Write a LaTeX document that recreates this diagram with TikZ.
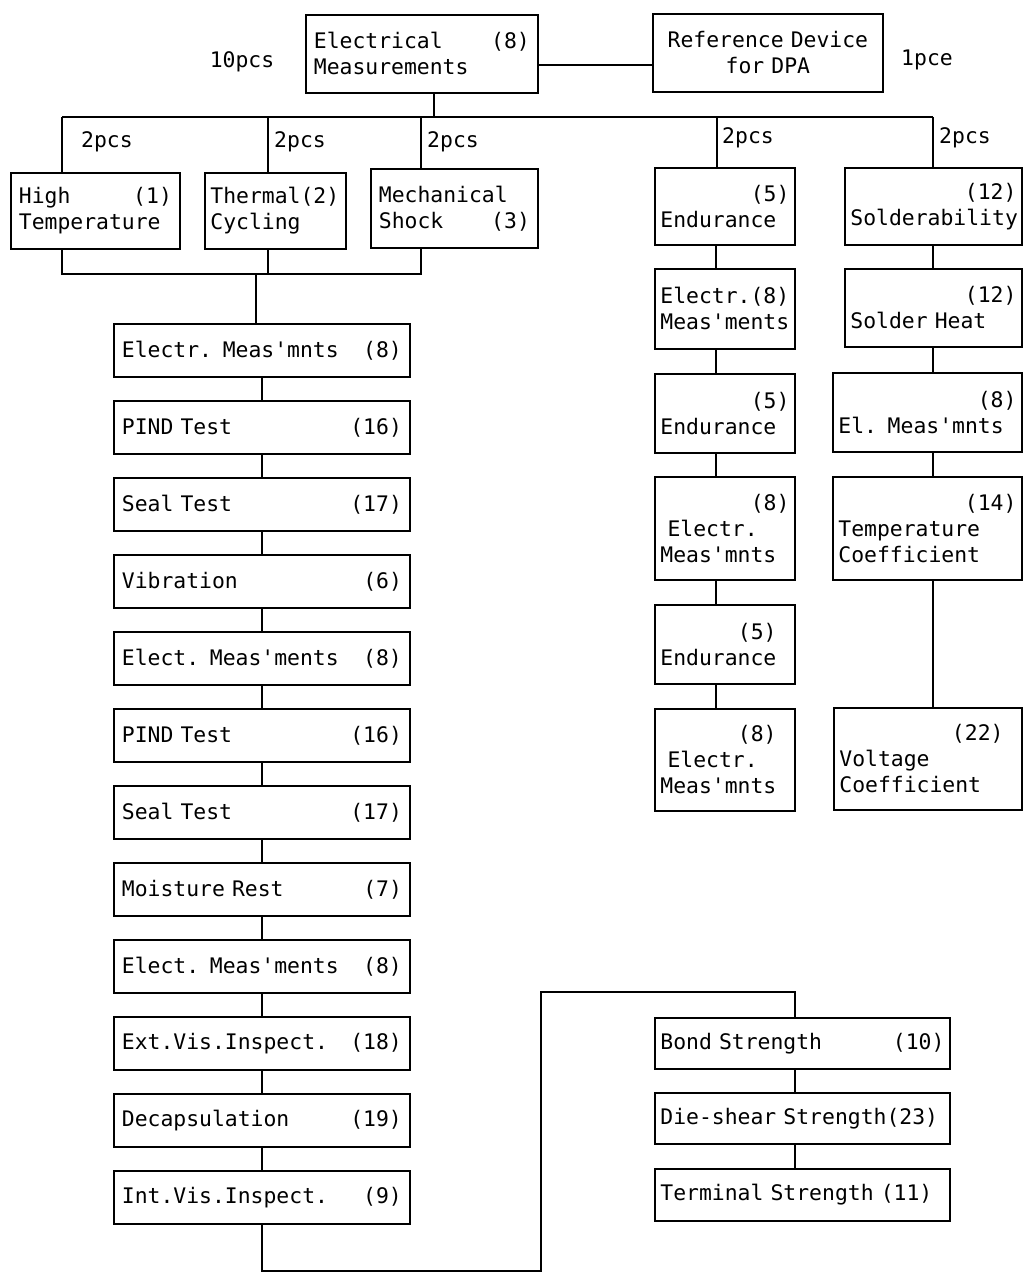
\documentclass[tikz,border=0pt]{standalone}
\usepackage{fontspec}
\setmonofont{DejaVu Sans Mono}
\usetikzlibrary{positioning}

\newcommand{\boxfont}{\ttfamily\fontsize{10.7}{13}\selectfont
  \spaceskip=\fontcharwd\font`0\relax \xspaceskip=\spaceskip}
\tikzset{
  stage/.style={draw, line width=0.9pt, anchor=north west, inner xsep=4pt, inner ysep=0pt, align=left, font=\boxfont},
  narrow/.style={inner xsep=2.75pt},
  tag/.style={font=\boxfont, inner sep=0pt},
  link/.style={line width=0.9pt},
}

\begin{document}
\begin{tikzpicture}[x=0.5pt, y=-0.5pt]
\useasboundingbox (0,0) rectangle (1023,1273);

% Initial measurements and DPA reference
\node[stage, text width=108pt, minimum height=39pt] (em) at (305,14) {Electrical\hfill(8)\\Measurements};
\node[stage, align=center, text width=107pt, minimum height=39pt] (ref) at (652,13) {Reference Device\\for DPA};
\node[tag] (n10) at (242,62) {10pcs};
\node[tag] (n1) at (927,60) {1pce};
\draw[link] ([yshift=-5.5pt]em.east) -- ([yshift=-5.5pt]em.east -| ref.west);

% Distribution bus
\coordinate (hub) at (434,117);
\coordinate (d1) at (62,117);
\coordinate (d2) at (268,117);
\coordinate (d3) at (421,117);
\coordinate (d4) at (717,117);
\coordinate (d5) at (933,117);
\draw[link] (d1) -- (d5);
\draw[link] (hub) -- (hub |- em.south);

% First tests of each group
\node[stage, text width=76.5pt, minimum height=38pt] (ht) at (10,172) {High\hfill(1)\\Temperature};
\node[stage, narrow, text width=65pt, minimum height=38pt] (tc) at (204,172) {Thermal(2)\\Cycling};
\node[stage, text width=75.5pt, minimum height=39.5pt] (ms) at (370,168) {Mechanical\\Shock\hfill(3)};
\node[stage, narrow, text width=64.5pt, minimum height=38.5pt] (e1) at (654,167) {\hfill(5)\\Endurance};
\node[stage, narrow, text width=83pt, minimum height=38.5pt] (s1) at (844,167) {\hfill(12)\\Solderability};

\foreach \d/\b in {d1/ht, d2/tc, d3/ms, d4/e1, d5/s1}
  \draw[link] (\d) -- (\d |- \b.north);

% Sample counts
\node[tag] (p1) at (107,142) {2pcs};
\node[tag] (p2) at (300,142) {2pcs};
\node[tag] (p3) at (453,142) {2pcs};
\node[tag] (p4) at (748,138) {2pcs};
\node[tag] (p5) at (965,138) {2pcs};

% Environmental sequence
\foreach \lab/\num [count=\i from 0] in {Electr. Meas'mnts/8, PIND Test/16, Seal Test/17, Vibration/6,
    Elect. Meas'ments/8, PIND Test/16, Seal Test/17, Moisture Rest/7, Elect. Meas'ments/8,
    Ext.Vis.Inspect./18, Decapsulation/19, Int.Vis.Inspect./9}
  \node[stage, text width=140pt, minimum height=26.5pt] (l\i) at (113,{323+77*\i}) {\lab\hfill(\num)};
\foreach \i in {0,...,10} {
  \pgfmathtruncatemacro{\j}{\i+1}
  \draw[link] (l\i.south) -- (l\j.north);
}

\coordinate (j0) at (256,274);
\coordinate (j1) at (62,274);
\coordinate (j2) at (268,274);
\coordinate (j3) at (421,274);
\draw[link] (ht.south -| j1) -- (j1) -- (j3) -- (ms.south -| j3);
\draw[link] (tc.south -| j2) -- (j2);
\draw[link] (j0) -- (j0 |- l0.north);

% Endurance column
\node[stage, narrow, text width=64.5pt, minimum height=40pt] (m1) at (654,268) {Electr.(8)\\Meas'ments};
\node[stage, narrow, text width=64.5pt, minimum height=39.5pt] (e2) at (654,373) {\hfill(5)\\Endurance};
\node[stage, narrow, text width=64.5pt, minimum height=51.5pt] (m2) at (654,476) {\hfill(8)\\~Electr.\\Meas'mnts};
\node[stage, narrow, text width=64.5pt, minimum height=39.5pt] (e3) at (654,604) {\hfill(5)\phantom{0}\\Endurance};
\node[stage, narrow, text width=64.5pt, minimum height=51pt] (m3) at (654,708) {\hfill(8)\phantom{0}\\~Electr.\\Meas'mnts};
\coordinate (sp2) at (716,0);
\foreach \a/\b in {e1/m1, m1/e2, e2/m2, m2/e3, e3/m3}
  \draw[link] (\a.south -| sp2) -- (\b.north -| sp2);

% Solderability column
\node[stage, narrow, text width=83pt, minimum height=39pt] (s2) at (844,268) {\hfill(12)\\Solder Heat};
\node[stage, narrow, text width=89pt, minimum height=39.5pt] (s3) at (832,372) {\hfill(8)\\El. Meas'mnts};
\node[stage, narrow, text width=89pt, minimum height=51.5pt] (s4) at (832,476) {\hfill(14)\\Temperature\\Coefficient};
\node[stage, narrow, text width=88.5pt, minimum height=51pt] (s5) at (833,707) {\hfill(22)\phantom{0}\\Voltage\\Coefficient};
\coordinate (sp3) at (933,0);
\foreach \a/\b in {s1/s2, s2/s3, s3/s4, s4/s5}
  \draw[link] (\a.south -| sp3) -- (\b.north -| sp3);

% Strength tests
\node[stage, narrow, text width=142pt, minimum height=25.5pt] (b1) at (654,1017) {Bond Strength\hfill(10)};
\node[stage, narrow, text width=142pt, minimum height=25.5pt] (b2) at (654,1092) {Die-shear Strength(23)};
\node[stage, narrow, text width=142pt, minimum height=26pt] (b3) at (654,1168) {Terminal Strength (11)};
\coordinate (sp4) at (795,992);
\coordinate (ret) at (541,1271);
\draw[link] (l11.south) |- (ret) |- (sp4) -- (sp4 |- b1.north);
\foreach \a/\b in {b1/b2, b2/b3}
  \draw[link] (\a.south -| sp4) -- (\b.north -| sp4);

\end{tikzpicture}
\end{document}
